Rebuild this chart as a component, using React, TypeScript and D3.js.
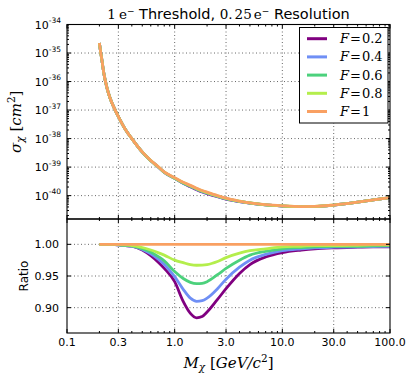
import React from 'react';
import * as d3 from 'd3';

// dark matter mass grid (GeV/c^2)
const massGrid = [0.2, 0.205, 0.21, 0.22, 0.235, 0.25, 0.28, 0.3, 0.35, 0.4, 0.5, 0.6, 0.7, 0.8, 1.0, 1.2, 1.4, 1.6, 1.8, 2.0, 2.5, 3, 4, 5, 7, 10, 15, 20, 30, 50, 70, 100];

// cross section for F = 1 (cm^2)
const sigmaF1 = [2.24e-35, 1.12e-35, 6.3e-36, 1.9e-36, 6.0e-37, 2.75e-37, 1.0e-37, 5.9e-38, 2.04e-38, 1.0e-38, 3.4e-39, 1.7e-39, 1.05e-39, 6.8e-40, 4.27e-40, 2.95e-40, 2.29e-40, 1.82e-40, 1.51e-40, 1.32e-40, 1.0e-40, 8.1e-41, 6.45e-41, 5.6e-41, 4.8e-41, 4.37e-41, 4.12e-41, 4.17e-41, 4.68e-41, 5.9e-41, 7.1e-41, 8.5e-41];

// ratio sigma_F / sigma_1
const ratioF02 = [1, 1, 1, 1, 1, 1, 0.9995, 0.999, 0.998, 0.997, 0.991, 0.982, 0.972, 0.962, 0.941, 0.910, 0.891, 0.884, 0.886, 0.893, 0.913, 0.930, 0.954, 0.968, 0.980, 0.987, 0.991, 0.993, 0.9945, 0.9955, 0.996, 0.996];
const ratioF04 = [1, 1, 1, 1, 1, 1, 0.9995, 0.999, 0.998, 0.997, 0.992, 0.985, 0.977, 0.968, 0.949, 0.929, 0.915, 0.910, 0.911, 0.915, 0.930, 0.945, 0.964, 0.975, 0.984, 0.990, 0.993, 0.9945, 0.9955, 0.996, 0.9965, 0.997];
const ratioF06 = [1, 1, 1, 1, 1, 1, 0.9997, 0.9993, 0.9985, 0.9975, 0.993, 0.988, 0.981, 0.974, 0.957, 0.946, 0.940, 0.938, 0.9385, 0.941, 0.952, 0.962, 0.975, 0.983, 0.989, 0.993, 0.995, 0.996, 0.997, 0.997, 0.9975, 0.998];
const ratioF08 = [1, 1, 1, 1, 1, 1, 0.9998, 0.9995, 0.999, 0.998, 0.995, 0.991, 0.987, 0.983, 0.975, 0.971, 0.968, 0.967, 0.9672, 0.968, 0.973, 0.979, 0.986, 0.990, 0.993, 0.996, 0.997, 0.998, 0.998, 0.9985, 0.999, 0.999];
const ratioF10 = [1, 1, 1, 1, 1, 1, 1, 1, 1, 1, 1, 1, 1, 1, 1, 1, 1, 1, 1, 1, 1, 1, 1, 1, 1, 1, 1, 1, 1, 1, 1, 1];

const seriesLabels = ['0.2', '0.4', '0.6', '0.8', '1'];
const seriesColors = ['#800080', '#6f8ff5', '#4cd17c', '#b4ee4c', '#f9a062'];
const seriesRatios = [ratioF02, ratioF04, ratioF06, ratioF08, ratioF10];

const xMajorTicks = [0.1, 0.3, 1, 3, 10, 30, 100];
const xTickLabels = ['0.1', '0.3', '1.0', '3.0', '10.0', '30.0', '100.0'];
const yTopExponents = [-40, -39, -38, -37, -36, -35, -34];
const yBottomTicks = [0.9, 0.95, 1.0];
const yBottomLabels = ['0.90', '0.95', '1.00'];

const SANS = '"DejaVu Sans", sans-serif';
const SERIF = '"DejaVu Serif", serif';

const L = 67, R = 390, T1 = 24.5, B1 = 219, T2 = 219, B2 = 333;

export default function App() {
  const x = d3.scaleLog().domain([0.1, 100]).range([L, R]);
  const yTop = d3.scaleLog().domain([Math.pow(10, -40.82), 1e-34]).range([B1, T1]);
  const yBot = d3.scaleLinear().domain([0.86, 1.04]).range([B2, T2]);

  const xMinor: number[] = [];
  [0.1, 1, 10].forEach(dec => {
    for (let k = 2; k <= 9; k++) if (k !== 3) xMinor.push(k * dec);
  });
  const yMinor: number[] = [];
  for (let e = -41; e <= -35; e++) {
    for (let k = 2; k <= 9; k++) {
      const v = k * Math.pow(10, e);
      if (v > yTop.domain()[0] && v < 1e-34) yMinor.push(v);
    }
  }

  const lineTop = d3.line<number>()
    .x((_, i) => x(massGrid[i]))
    .y(d => yTop(d))
    .curve(d3.curveMonotoneX);
  const lineBot = d3.line<number>()
    .x((_, i) => x(massGrid[i]))
    .y(d => yBot(d))
    .curve(d3.curveMonotoneX);

  const grid = { stroke: '#000', strokeWidth: 0.6, strokeDasharray: '1,2.5' };

  const xTicksFor = (top: number, bottom: number, key: string) => (
    <g key={key}>
      {xMajorTicks.map(t => (
        <g key={'M' + t}>
          <line x1={x(t)} x2={x(t)} y1={bottom} y2={bottom - 4} stroke="#000" />
          <line x1={x(t)} x2={x(t)} y1={top} y2={top + 4} stroke="#000" />
        </g>
      ))}
      {xMinor.map(t => (
        <g key={'m' + t}>
          <line x1={x(t)} x2={x(t)} y1={bottom} y2={bottom - 2} stroke="#000" />
          <line x1={x(t)} x2={x(t)} y1={top} y2={top + 2} stroke="#000" />
        </g>
      ))}
    </g>
  );

  return (
    <svg width={415} height={381} style={{ position: 'absolute', left: 0, top: 0, background: '#fff' }}>
      <defs>
        <clipPath id="clipTop"><rect x={L} y={T1} width={R - L} height={B1 - T1} /></clipPath>
        <clipPath id="clipBot"><rect x={L} y={T2} width={R - L} height={B2 - T2} /></clipPath>
      </defs>
      <rect x={0} y={0} width={415} height={381} fill="#fff" />

      {/* title */}
      <text x={(L + R) / 2} y={18.5} textAnchor="middle" fontSize={14.5} fontFamily={SANS}>
        <tspan fontFamily={SERIF} fontSize={13.5}>1</tspan>
        <tspan fontFamily={SERIF} fontSize={13.5} dx={3}>e</tspan>
        <tspan fontFamily={SERIF} fontSize={9} dy={-5}>−</tspan>
        <tspan dy={5}> Threshold, </tspan>
        <tspan fontFamily={SERIF} fontSize={13.5}>0.</tspan>
        <tspan fontFamily={SERIF} fontSize={13.5} dx={2}>25</tspan>
        <tspan fontFamily={SERIF} fontSize={13.5} dx={2}>e</tspan>
        <tspan fontFamily={SERIF} fontSize={9} dy={-5}>−</tspan>
        <tspan dy={5}> Resolution</tspan>
      </text>

      {/* ---------- top panel ---------- */}
      {xMajorTicks.slice(1, -1).map(t => (
        <line key={'gx' + t} x1={x(t)} x2={x(t)} y1={T1} y2={B1} {...grid} />
      ))}
      {yTopExponents.slice(0, -1).map(e => (
        <line key={'gy' + e} x1={L} x2={R} y1={yTop(Math.pow(10, e))} y2={yTop(Math.pow(10, e))} {...grid} />
      ))}
      <g clipPath="url(#clipTop)">
        {seriesRatios.map((r, si) => (
          <path key={'t' + si}
            d={lineTop(sigmaF1.map((s, i) => s * r[i])) || ''}
            fill="none" stroke={seriesColors[si]} strokeWidth={2.8} />
        ))}
      </g>
      {xTicksFor(T1, B1, 'xt1')}
      {yTopExponents.map(e => {
        const yy = yTop(Math.pow(10, e));
        return (
          <g key={'yt' + e}>
            <line x1={L} x2={L + 4} y1={yy} y2={yy} stroke="#000" />
            <line x1={R} x2={R - 4} y1={yy} y2={yy} stroke="#000" />
            <text x={61} y={yy + 4.2} textAnchor="end" fontSize={11} fontFamily={SANS}>
              10<tspan fontSize={7.5} dy={-5.5}>{String(e)}</tspan>
            </text>
          </g>
        );
      })}
      {yMinor.map(v => (
        <g key={'ym' + v}>
          <line x1={L} x2={L + 2} y1={yTop(v)} y2={yTop(v)} stroke="#000" />
          <line x1={R} x2={R - 2} y1={yTop(v)} y2={yTop(v)} stroke="#000" />
        </g>
      ))}
      <rect x={L} y={T1} width={R - L} height={B1 - T1} fill="none" stroke="#000" strokeWidth={1.1} />

      {/* legend */}
      <rect x={299.5} y={27.5} width={88.5} height={95.5} fill="#fff" stroke="#000" strokeWidth={1} />
      {seriesLabels.map((lab, i) => {
        const ly = 38.7 + i * 18.2;
        return (
          <g key={'lg' + i}>
            <line x1={307} x2={327} y1={ly} y2={ly} stroke={seriesColors[i]} strokeWidth={3} />
            <text x={340} y={ly + 4.5} fontSize={13} fontFamily={SERIF}>
              <tspan fontStyle="italic">F</tspan>
              <tspan dx={1}>=</tspan>
              <tspan dx={1}>{lab}</tspan>
            </text>
          </g>
        );
      })}

      {/* y label top */}
      <text transform={`translate(21,${(T1 + B1) / 2}) rotate(-90)`} textAnchor="middle" fontSize={15} fontFamily={SERIF} fontStyle="italic">
        σ<tspan fontSize={10.5} dy={3}>χ</tspan>
        <tspan dy={-3} fontStyle="normal"> [</tspan>cm<tspan fontSize={10.5} dy={-6} fontStyle="normal">2</tspan>
        <tspan dy={6} fontStyle="normal">]</tspan>
      </text>

      {/* ---------- bottom panel ---------- */}
      {xMajorTicks.slice(1, -1).map(t => (
        <line key={'bgx' + t} x1={x(t)} x2={x(t)} y1={T2} y2={B2} {...grid} />
      ))}
      {yBottomTicks.map(t => (
        <line key={'bgy' + t} x1={L} x2={R} y1={yBot(t)} y2={yBot(t)} {...grid} />
      ))}
      <g clipPath="url(#clipBot)">
        {seriesRatios.map((r, si) => (
          <path key={'b' + si} d={lineBot(r) || ''} fill="none" stroke={seriesColors[si]} strokeWidth={2.8} />
        ))}
      </g>
      {xTicksFor(T2, B2, 'xt2')}
      {yBottomTicks.map((t, i) => (
        <g key={'ybt' + t}>
          <line x1={L} x2={L + 4} y1={yBot(t)} y2={yBot(t)} stroke="#000" />
          <line x1={R} x2={R - 4} y1={yBot(t)} y2={yBot(t)} stroke="#000" />
          <text x={59} y={yBot(t) + 4} textAnchor="end" fontSize={11} fontFamily={SANS}>{yBottomLabels[i]}</text>
        </g>
      ))}
      <rect x={L} y={T2} width={R - L} height={B2 - T2} fill="none" stroke="#000" strokeWidth={1.1} />
      <text transform={`translate(28,${(T2 + B2) / 2}) rotate(-90)`} textAnchor="middle" fontSize={12} fontFamily={SANS}>Ratio</text>

      {/* x tick labels */}
      {xMajorTicks.map((t, i) => (
        <text key={'xl' + t} x={x(t)} y={345.7} textAnchor="middle" fontSize={11} fontFamily={SANS}>{xTickLabels[i]}</text>
      ))}
      <text x={(L + R) / 2} y={368} textAnchor="middle" fontSize={15} fontFamily={SERIF} fontStyle="italic">
        M<tspan fontSize={10.5} dy={3}>χ</tspan>
        <tspan dy={-3} fontStyle="normal"> [</tspan>GeV/c<tspan fontSize={10.5} dy={-6} fontStyle="normal">2</tspan>
        <tspan dy={6} fontStyle="normal">]</tspan>
      </text>
    </svg>
  );
}
